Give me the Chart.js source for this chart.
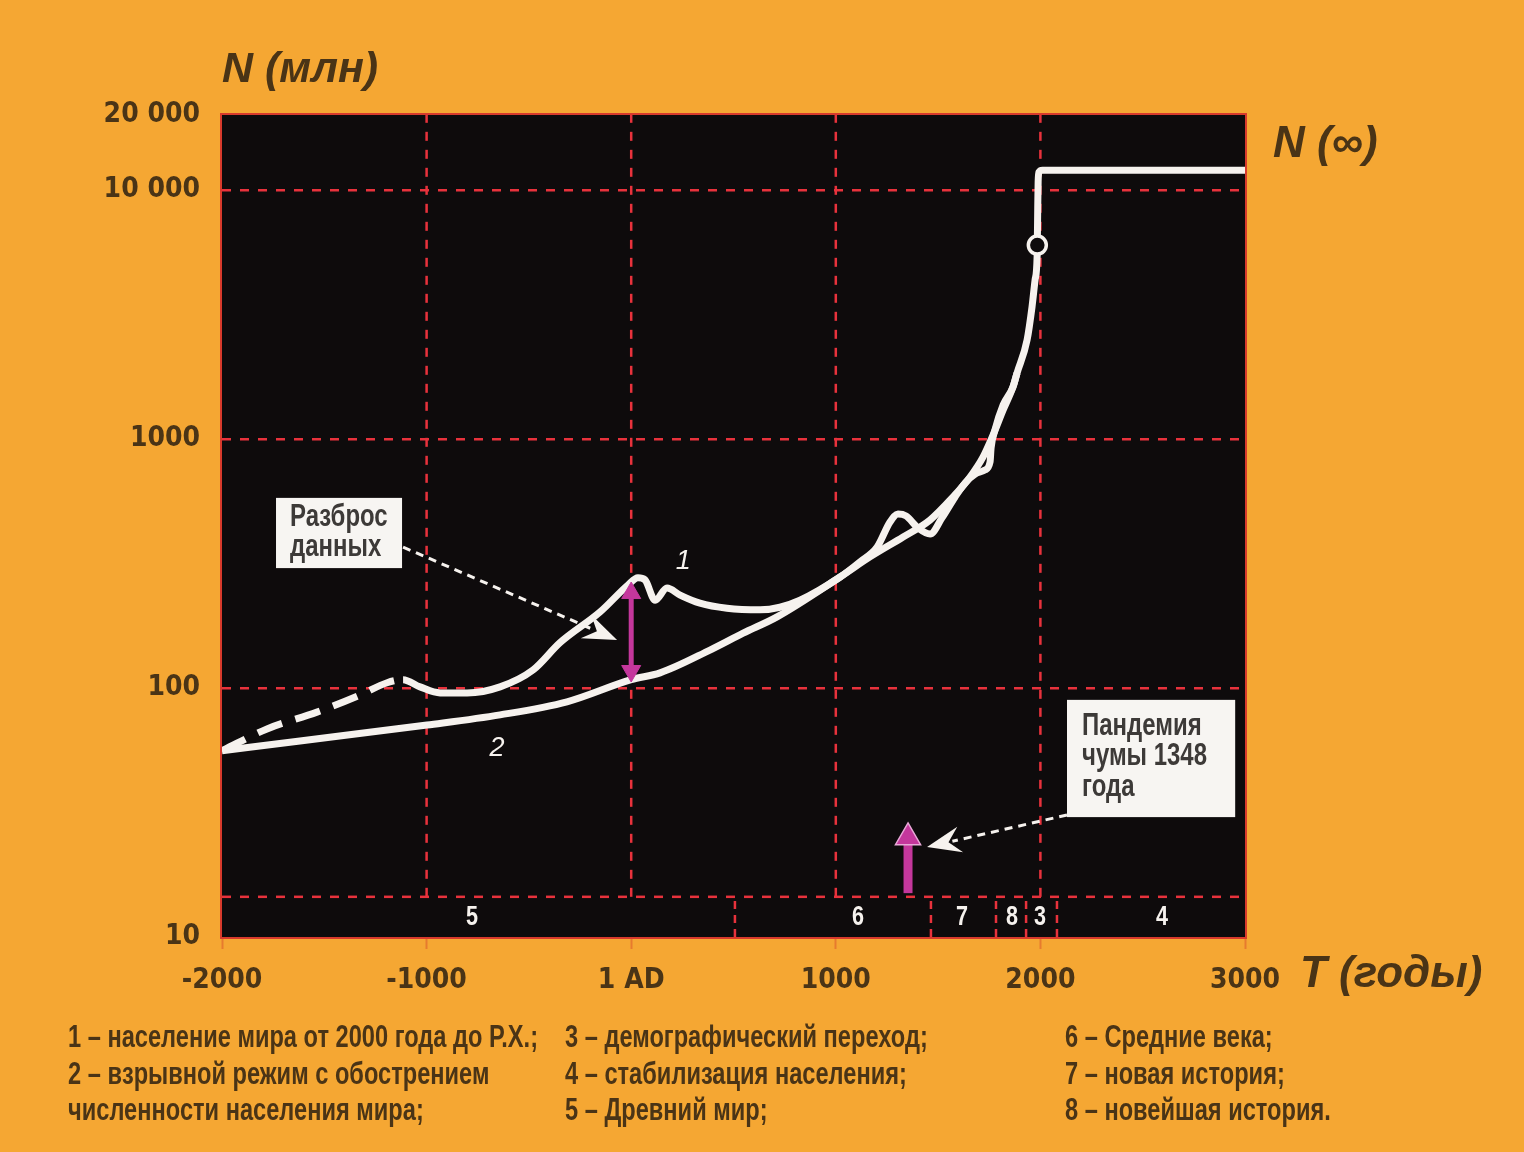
<!DOCTYPE html>
<html><head><meta charset="utf-8">
<script src="https://cdn.jsdelivr.net/npm/chart.js@4"></script>
<style>html,body{margin:0;padding:0;background:#f5a733;}#wrap{width:1524px;height:1152px;position:relative}</style>
</head><body><div id="wrap"><canvas id="c" width="1524" height="1152"></canvas></div>
<script>
// ---------- DATA ----------
const yTicks = [10, 100, 1000, 10000, 20000];
const yTickLabels = ['10', '100', '1000', '10 000', '20 000'];
const xTicks = [-2000, -1000, 0, 1000, 2000, 3000];
const xTickLabels = ['-2000', '-1000', '1 AD', '1000', '2000', '3000'];

// curve 1: world population data (dashed part up to -1115)
const curve1Years = [-2000, -1780, -1536, -1325, -1193, -1115, -1032, -934, -802, -641, -480, -348, -152, -16, 33, 67, 117, 175, 239, 336, 468, 630, 727, 825, 1021, 1118, 1202, 1265, 1304, 1343, 1402, 1461, 1519, 1583, 1632, 1681, 1730, 1754, 1759, 1778, 1818, 1866, 1886];
const curve1Values = [56, 68.5, 80, 93.7, 105, 108, 101, 95.5, 95.5, 101, 118, 152, 202, 259, 277, 272, 225, 252, 236, 219, 209, 206, 211, 225, 279, 321, 368, 464, 500, 491, 439, 415, 482, 585, 666, 723, 751, 809, 920, 1087, 1371, 1618, 1842];
const curve1DashedUntil = -1115;

// curve 2: blow-up regime then stabilisation
const curve2Years = [-2000, -1619, -998, -641, -314, 0, 141, 385, 547, 713, 1021, 1167, 1329, 1461, 1573, 1656, 1720, 1769, 1818, 1866, 1886, 1935, 1959, 1974, 1984, 1987, 1989, 1993, 2010, 3000];
const curve2Values = [56, 61.3, 71, 78, 88, 108, 115, 142, 166, 193, 279, 336, 404, 473, 585, 703, 847, 1038, 1307, 1618, 1842, 2500, 3390, 4350, 5430, 8500, 10800, 11800, 12000, 12000];

const transitionPointYear = [1985];
const transitionPointValue = [6010];

// data scatter double arrow (at 1 AD)
const scatterArrowYears = [0, 0];
const scatterArrowValues = [117, 240.6];
// plague 1348 arrow
const plagueArrowYears = [1353, 1353];
const plagueArrowValues = [15, 25.1];

// period band
const bandLineValue = 14.5;
const bandDividerYears = [507, 1465, 1783, 1930, 2081];
const periodLabels = ['5', '6', '7', '8', '3', '4'];
const periodLabelYears = [-778, 1108, 1617, 1861, 1998, 2594];
const periodLabelValue = 12;

const gridYears = [-1000, 0, 1000, 2000];

const legendCol1 = ['1 – население мира от 2000 года до Р.Х.;', '2 – взрывной режим с обострением', 'численности населения мира;'];
const legendCol2 = ['3 – демографический переход;', '4 – стабилизация населения;', '5 – Древний мир;'];
const legendCol3 = ['6 – Средние века;', '7 – новая история;', '8 – новейшая история.'];

// ---------- STYLE ----------
const ORANGE = '#f5a733';
const BROWN = '#4a3416';
const RED = '#e8323c';
const WHITE = '#f6f2ee';
const MAGENTA = '#c4379c';
const COND = "'Liberation Sans Narrow','DejaVu Sans Condensed','Roboto Condensed','Liberation Sans',sans-serif";
const SANS = "'Liberation Sans','Arial',sans-serif";

const xy = (xs, ys) => xs.map((x, i) => ({x, y: ys[i]}));

const datasets = [];
datasets.push({
  label: 'curve1', data: xy(curve1Years, curve1Values), borderColor: WHITE, borderWidth: 7,
  pointRadius: 0, cubicInterpolationMode: 'monotone', order: 1, borderCapStyle: 'butt', borderJoinStyle: 'round',
  segment: { borderDash: c => c.p1.parsed.x <= curve1DashedUntil ? [26, 14] : undefined }
});
datasets.push({
  label: 'curve2', data: xy(curve2Years, curve2Values), borderColor: WHITE, borderWidth: 7,
  pointRadius: 0, cubicInterpolationMode: 'monotone', order: 1, borderJoinStyle: 'round'
});
datasets.push({
  label: 'circle', data: xy(transitionPointYear, transitionPointValue), showLine: false,
  pointRadius: 9, pointBorderWidth: 3.5, pointBorderColor: WHITE, pointBackgroundColor: '#0e0b0c', order: 0
});
datasets.push({
  label: 'scatterArrow', data: xy(scatterArrowYears, scatterArrowValues), borderColor: MAGENTA, borderWidth: 5,
  pointStyle: 'triangle', pointRadius: 11, pointRotation: [180, 0], pointBackgroundColor: MAGENTA, pointBorderColor: MAGENTA, pointBorderWidth: 1, order: 0
});
datasets.push({
  label: 'plagueArrow', data: xy(plagueArrowYears, plagueArrowValues), borderColor: MAGENTA, borderWidth: 9,
  pointStyle: 'triangle', pointRadius: [0, 14.5], pointBackgroundColor: MAGENTA, pointBorderColor: '#e9a8d8', pointBorderWidth: 1.5, order: 0
});
const gridDs = {borderColor: RED, borderWidth: 2.5, borderDash: [9, 9], pointRadius: 0, order: 5, tension: 0};
datasets.push(Object.assign({label: 'band', data: [{x: -2000, y: bandLineValue}, {x: 3000, y: bandLineValue}]}, gridDs));
bandDividerYears.forEach(yr => datasets.push(Object.assign({label: 'div', data: [{x: yr, y: 10}, {x: yr, y: bandLineValue}]}, gridDs, {borderDash: [8, 6]})));
gridYears.forEach(yr => datasets.push(Object.assign({label: 'grid', data: [{x: yr, y: bandLineValue}, {x: yr, y: 20000}]}, gridDs)));

function toPx(chart, x, y) {
  return [chart.scales.x.getPixelForValue(x), chart.scales.y.getPixelForValue(y)];
}
function drawDart(ctx, x0, y0, x1, y1) {
  const a = Math.atan2(y1 - y0, x1 - x0);
  const L = 34, W = 13, N = 22;
  ctx.save();
  ctx.translate(x1, y1); ctx.rotate(a);
  ctx.beginPath();
  ctx.moveTo(0, 0); ctx.lineTo(-L, -W); ctx.lineTo(-N, 0); ctx.lineTo(-L, W); ctx.closePath();
  ctx.fillStyle = WHITE; ctx.fill();
  ctx.restore();
}
function condText(ctx, text, x, y, sx) {
  ctx.save(); ctx.translate(x, y); ctx.scale(sx, 1); ctx.fillText(text, 0, 0); ctx.restore();
}

const plugin = {
  id: 'deco',
  beforeDraw(chart) {
    const {ctx, chartArea: a} = chart;
    ctx.save();
    ctx.fillStyle = ORANGE; ctx.fillRect(0, 0, chart.width, chart.height);
    ctx.fillStyle = '#0e0b0c'; ctx.fillRect(a.left, a.top, a.right - a.left, a.bottom - a.top);
    ctx.restore();
  },
  afterDatasetsDraw(chart) {
    const {ctx, chartArea: a} = chart;
    ctx.save();
    ctx.strokeStyle = '#d83a2c'; ctx.lineWidth = 2;
    ctx.strokeRect(a.left - 1, a.top - 1, a.right - a.left + 2, a.bottom - a.top + 2);

    ctx.fillStyle = WHITE; ctx.font = 'bold 27px ' + SANS; ctx.textAlign = 'center'; ctx.textBaseline = 'middle';
    periodLabels.forEach((t, i) => {
      const [px, py] = toPx(chart, periodLabelYears[i], periodLabelValue);
      condText(ctx, t, px, py, 0.8);
    });
    ctx.font = 'italic 27px ' + SANS;
    let p = toPx(chart, 254, 321); ctx.fillText('1', p[0], p[1]);
    p = toPx(chart, -656, 57.4); ctx.fillText('2', p[0], p[1]);

    ctx.font = 'bold 31px ' + SANS;
    const sx = 125 / ctx.measureText('чумы 1348').width;
    let b0 = toPx(chart, -1736, 580), b1 = toPx(chart, -1120, 303);
    ctx.fillStyle = '#f7f5f2'; ctx.fillRect(b0[0], b0[1], b1[0] - b0[0], b1[1] - b0[1]);
    ctx.fillStyle = '#3d3a38'; ctx.textAlign = 'left'; ctx.textBaseline = 'middle';
    condText(ctx, 'Разброс', b0[0] + 14, b0[1] + 20, sx);
    condText(ctx, 'данных', b0[0] + 14, b0[1] + 50, sx);
    let s = toPx(chart, -1115, 368), tip = toPx(chart, -69, 156);
    ctx.strokeStyle = WHITE; ctx.lineWidth = 3; ctx.setLineDash([8, 6]);
    ctx.beginPath(); ctx.moveTo(s[0], s[1]);
    const ang = Math.atan2(tip[1] - s[1], tip[0] - s[0]);
    ctx.lineTo(tip[0] - 26 * Math.cos(ang), tip[1] - 26 * Math.sin(ang)); ctx.stroke();
    ctx.setLineDash([]);
    drawDart(ctx, s[0], s[1], tip[0], tip[1]);

    b0 = toPx(chart, 2130, 89.6); b1 = toPx(chart, 2952, 30.3);
    ctx.fillStyle = '#f7f5f2'; ctx.fillRect(b0[0], b0[1], b1[0] - b0[0], b1[1] - b0[1]);
    ctx.fillStyle = '#3d3a38';
    condText(ctx, 'Пандемия', b0[0] + 15, b0[1] + 27, sx);
    condText(ctx, 'чумы 1348', b0[0] + 15, b0[1] + 57, sx);
    condText(ctx, 'года', b0[0] + 15, b0[1] + 88, sx);
    s = toPx(chart, 2130, 30.9); tip = toPx(chart, 1446, 22.97);
    ctx.strokeStyle = WHITE; ctx.lineWidth = 3; ctx.setLineDash([8, 6]);
    const ang2 = Math.atan2(tip[1] - s[1], tip[0] - s[0]);
    ctx.beginPath(); ctx.moveTo(s[0], s[1]); ctx.lineTo(tip[0] - 26 * Math.cos(ang2), tip[1] - 26 * Math.sin(ang2)); ctx.stroke();
    ctx.setLineDash([]);
    drawDart(ctx, s[0], s[1], tip[0], tip[1]);
    ctx.restore();
  },
  afterDraw(chart) {
    const {ctx, chartArea: a} = chart;
    ctx.save();
    ctx.fillStyle = BROWN; ctx.textBaseline = 'middle'; ctx.textAlign = 'left';
    ctx.font = 'italic bold 43px ' + SANS;
    ctx.fillText('N (млн)', a.left, 70);
    ctx.font = 'italic bold 44px ' + SANS;
    ctx.fillText('N (∞)', a.right + 28, 145);
    ctx.font = 'italic bold 44px ' + SANS;
    ctx.fillText('T (годы)', a.right + 55, 975);
    ctx.font = 'bold 32px ' + SANS;
    const lsx = 470 / ctx.measureText(legendCol1[0]).width;
    const rows = [1038, 1075, 1111];
    [[legendCol1, 68], [legendCol2, 565], [legendCol3, 1065]].forEach(([col, x]) => {
      col.forEach((t, i) => condText(ctx, t, x, rows[i], lsx));
    });
    ctx.restore();
  }
};

new Chart(document.getElementById('c'), {
  type: 'line',
  data: {datasets},
  plugins: [plugin],
  options: {
    responsive: false, animation: false, devicePixelRatio: 1,
    layout: {padding: {top: 115, right: 279, left: 0, bottom: 0}},
    plugins: {legend: {display: false}, tooltip: {enabled: false}},
    elements: {line: {borderCapStyle: 'butt'}},
    scales: {
      x: {
        type: 'linear', min: -2000, max: 3000,
        afterBuildTicks: s => { s.ticks = xTicks.map(v => ({value: v})); },
        afterFit: s => { s.height = 215; },
        ticks: {callback: (v, i) => xTickLabels[i], color: BROWN, font: {family: COND, size: 28, weight: 'bold'}, padding: 15, maxRotation: 0, autoSkip: false},
        grid: {drawOnChartArea: false, drawTicks: true, tickLength: 12, tickColor: 'rgba(215,70,40,0.45)', tickWidth: 2},
        border: {display: false}
      },
      y: {
        type: 'logarithmic', min: 10, max: 20000,
        afterBuildTicks: s => { s.ticks = yTicks.map(v => ({value: v})); },
        afterFit: s => { s.width = 222; },
        ticks: {callback: (v, i) => yTickLabels[i], color: BROWN, font: {family: COND, size: 28, weight: 'bold'}, padding: 22, autoSkip: false},
        grid: {drawTicks: false, lineWidth: 2.5,
          color: c => (c.tick && [100, 1000, 10000].includes(c.tick.value)) ? RED : 'rgba(0,0,0,0)'},
        border: {display: false, dash: [9, 9]}
      }
    }
  }
});
</script></body></html>
